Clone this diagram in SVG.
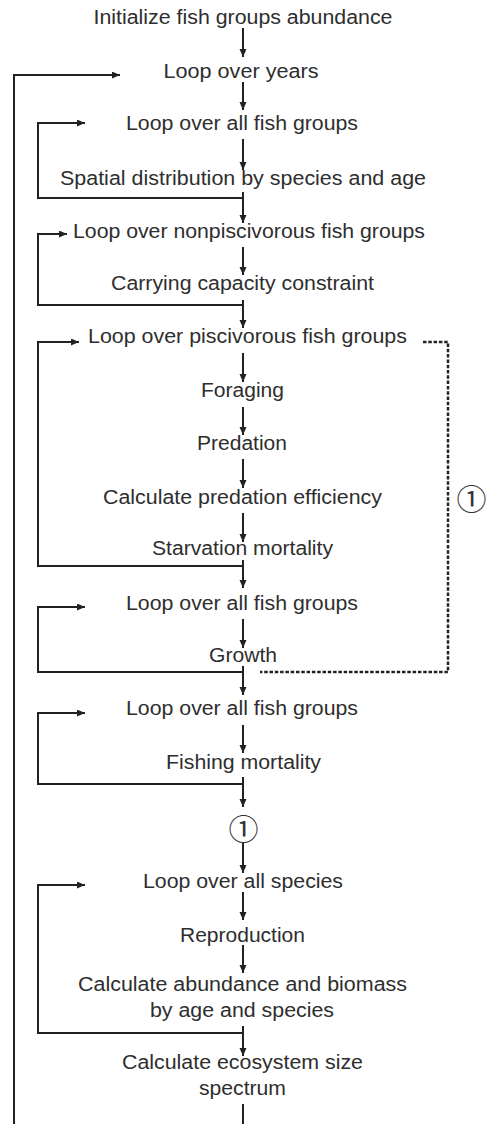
<svg xmlns="http://www.w3.org/2000/svg" width="488" height="1124" viewBox="0 0 488 1124">
<style>
.t{font-family:"Liberation Sans",Arial,sans-serif;font-size:19.5px;fill:#2e2e2e;text-anchor:middle}
.c{fill:none;stroke:#222;stroke-width:2}
.a{fill:none;stroke:#222;stroke-width:2;marker-end:url(#ah)}
.d{fill:none;stroke:#222;stroke-width:2.5;stroke-dasharray:3.5 1.8}
.num{font-family:"Noto Sans CJK SC","DejaVu Sans",sans-serif;font-size:30px;fill:#333;text-anchor:middle;dominant-baseline:central}
</style>
<defs>
<marker id="ah" markerUnits="userSpaceOnUse" markerWidth="9" markerHeight="8" refX="8" refY="3.5" orient="auto">
<path d="M0,0 L8,3.5 L0,7 z" fill="#222"/>
</marker>
</defs>
<rect width="488" height="1124" fill="#fff"/>
<g id="connectors">
<path class="a" d="M243,28 V57"/>
<path class="a" d="M243,82 V110"/>
<path class="a" d="M243,139 V170"/>
<path class="a" d="M243,192 V223"/>
<path class="a" d="M243,247 V275"/>
<path class="a" d="M243,300 V328"/>
<path class="a" d="M243,353 V382"/>
<path class="a" d="M243,407 V435"/>
<path class="a" d="M243,459 V488"/>
<path class="a" d="M243,513 V542"/>
<path class="a" d="M243,560 V588"/>
<path class="a" d="M243,619 V648"/>
<path class="a" d="M243,666 V695"/>
<path class="a" d="M243,725 V753"/>
<path class="a" d="M243,777 V807"/>
<path class="a" d="M243,842 V873"/>
<path class="a" d="M243,892 V920"/>
<path class="a" d="M243,945 V973"/>
<path class="a" d="M243,1026 V1056"/>
<path class="c" d="M243,1104 V1124"/>
<path class="a" d="M14,1124 V75 H120"/>
<path class="a" d="M243,198 H38 V123 H85"/>
<path class="a" d="M243,305 H38 V234 H67"/>
<path class="a" d="M243,566 H38 V342 H79"/>
<path class="a" d="M243,672 H38 V607 H85"/>
<path class="a" d="M243,784 H38 V713 H85"/>
<path class="a" d="M243,1033 H38 V885 H85"/>
<path class="d" d="M423,342 H448 V672 H260"/>
</g>
<g id="n-init"><text class="t" x="243" y="24" textLength="299" lengthAdjust="spacingAndGlyphs">Initialize fish groups abundance</text></g>
<g id="n-years"><text class="t" x="241" y="78" textLength="155" lengthAdjust="spacingAndGlyphs">Loop over years</text></g>
<g id="n-allfish1"><text class="t" x="242" y="130" textLength="232" lengthAdjust="spacingAndGlyphs">Loop over all fish groups</text></g>
<g id="n-spatial"><text class="t" x="243" y="185" textLength="366" lengthAdjust="spacingAndGlyphs">Spatial distribution by species and age</text></g>
<g id="n-nonpisc"><text class="t" x="249" y="238" textLength="352" lengthAdjust="spacingAndGlyphs">Loop over nonpiscivorous fish groups</text></g>
<g id="n-carrying"><text class="t" x="242.5" y="290" textLength="263" lengthAdjust="spacingAndGlyphs">Carrying capacity constraint</text></g>
<g id="n-pisc"><text class="t" x="247.5" y="343" textLength="319" lengthAdjust="spacingAndGlyphs">Loop over piscivorous fish groups</text></g>
<g id="n-foraging"><text class="t" x="242.5" y="397" textLength="83" lengthAdjust="spacingAndGlyphs">Foraging</text></g>
<g id="n-predation"><text class="t" x="242" y="450" textLength="90" lengthAdjust="spacingAndGlyphs">Predation</text></g>
<g id="n-efficiency"><text class="t" x="242.5" y="504" textLength="279" lengthAdjust="spacingAndGlyphs">Calculate predation efficiency</text></g>
<g id="n-starvation"><text class="t" x="242.5" y="555" textLength="181" lengthAdjust="spacingAndGlyphs">Starvation mortality</text></g>
<g id="n-allfish2"><text class="t" x="242" y="610" textLength="232" lengthAdjust="spacingAndGlyphs">Loop over all fish groups</text></g>
<g id="n-growth"><text class="t" x="243" y="662" textLength="68" lengthAdjust="spacingAndGlyphs">Growth</text></g>
<g id="n-allfish3"><text class="t" x="242" y="715" textLength="232" lengthAdjust="spacingAndGlyphs">Loop over all fish groups</text></g>
<g id="n-fishing"><text class="t" x="243.5" y="769" textLength="155" lengthAdjust="spacingAndGlyphs">Fishing mortality</text></g>
<g id="n-marker1"><text class="num" x="243.5" y="827">①</text></g>
<g id="n-marker-side"><text class="num" x="471.5" y="497">①</text></g>
<g id="n-species"><text class="t" x="243" y="888" textLength="200" lengthAdjust="spacingAndGlyphs">Loop over all species</text></g>
<g id="n-reproduction"><text class="t" x="242.5" y="942" textLength="125" lengthAdjust="spacingAndGlyphs">Reproduction</text></g>
<g id="n-abundance"><text class="t" x="242.5" y="991" textLength="329" lengthAdjust="spacingAndGlyphs">Calculate abundance and biomass</text><text class="t" x="242" y="1017" textLength="184" lengthAdjust="spacingAndGlyphs">by age and species</text></g>
<g id="n-sizespectrum"><text class="t" x="242.5" y="1069" textLength="241" lengthAdjust="spacingAndGlyphs">Calculate ecosystem size</text><text class="t" x="242.5" y="1095" textLength="87" lengthAdjust="spacingAndGlyphs">spectrum</text></g>
</svg>
